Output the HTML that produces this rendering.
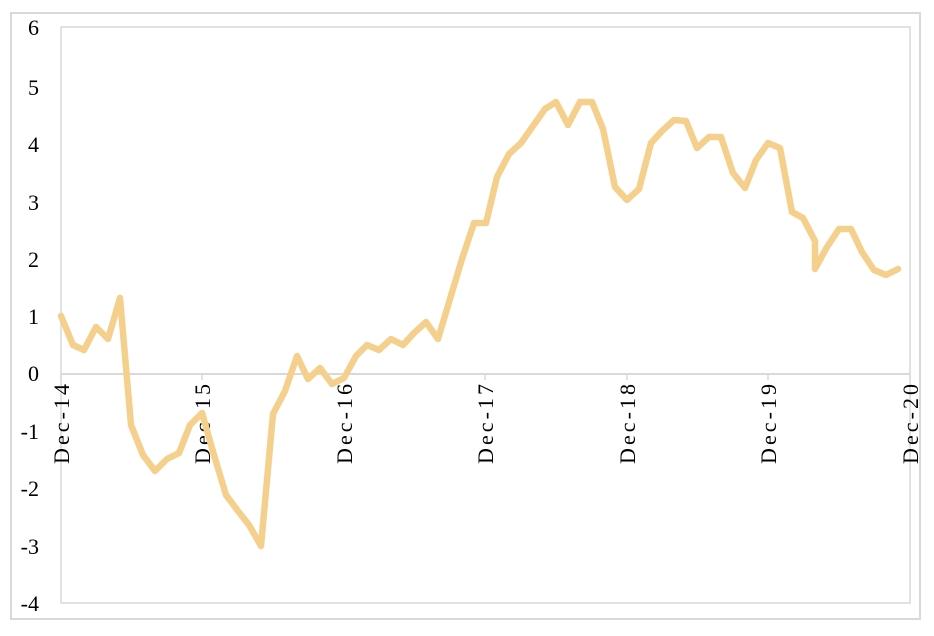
<!DOCTYPE html>
<html><head><style>body{margin:0;background:#fff}</style></head><body>
<svg width="934" height="636" xmlns="http://www.w3.org/2000/svg" style="display:block">
<rect x="11" y="13" width="909" height="606" fill="#fff" stroke="#d9d9d9" stroke-width="2"/>
<rect x="61" y="27" width="849" height="576" fill="none" stroke="#d9d9d9" stroke-width="1.5"/>
<line x1="61" y1="374" x2="910" y2="374" stroke="#d9d9d9" stroke-width="2"/>
<g stroke="#d9d9d9" stroke-width="1.5">
<line x1="61" y1="374" x2="61" y2="380"/><line x1="202" y1="374" x2="202" y2="380"/><line x1="344" y1="374" x2="344" y2="380"/><line x1="485" y1="374" x2="485" y2="380"/><line x1="627" y1="374" x2="627" y2="380"/><line x1="768" y1="374" x2="768" y2="380"/><line x1="910" y1="374" x2="910" y2="380"/>
</g>
<g font-family="Liberation Serif, serif" font-size="22" fill="#000" text-anchor="end">
<text x="39" y="35">6</text><text x="39" y="95">5</text><text x="39" y="152">4</text><text x="39" y="210">3</text><text x="39" y="267">2</text><text x="39" y="324">1</text><text x="39" y="381">0</text><text x="39" y="439">-1</text><text x="39" y="496">-2</text><text x="39" y="554">-3</text><text x="39" y="611">-4</text>
</g>
<g font-family="Liberation Serif, serif" font-size="22" fill="#000" text-anchor="end">
<text transform="translate(69,384) rotate(-90)" textLength="80">Dec-14</text>
<text transform="translate(210,384) rotate(-90)" textLength="80">Dec-15</text>
<text transform="translate(352,384) rotate(-90)" textLength="80">Dec-16</text>
<text transform="translate(493,384) rotate(-90)" textLength="80">Dec-17</text>
<text transform="translate(635,384) rotate(-90)" textLength="80">Dec-18</text>
<text transform="translate(776,384) rotate(-90)" textLength="80">Dec-19</text>
<text transform="translate(918,384) rotate(-90)" textLength="80">Dec-20</text>
</g>
<polyline fill="none" stroke="#f5d08d" stroke-width="6.5" stroke-linejoin="round" stroke-linecap="round" points="61,316 73,345 84,350 96,327 108,339 120,298 131,425 143,455 155,471 167,459 179,453 190,425 202,413 214,455 226,495 238,511 249,525 261,546 273,414 285,391 297,356 308,379 320,368 332,384 344,378 356,356 367,345 379,350 391,339 403,345 414,333 426,322 438,339 450,299 462,259 474,223 486,223 497,177 509,154 521,143 533,126 545,109 556,102 568,125 580,102 592,102 603,129 615,187 627,200 639,189 651,143 662,131 674,120 686,121 697,148 709,137 721,137 733,173 745,188 756,160 768,143 780,148 792,212 803,218 815,241 815,269 827,247 839,229 851,229 862,252 874,270 886,275 898,269"/>
</svg>
</body></html>
